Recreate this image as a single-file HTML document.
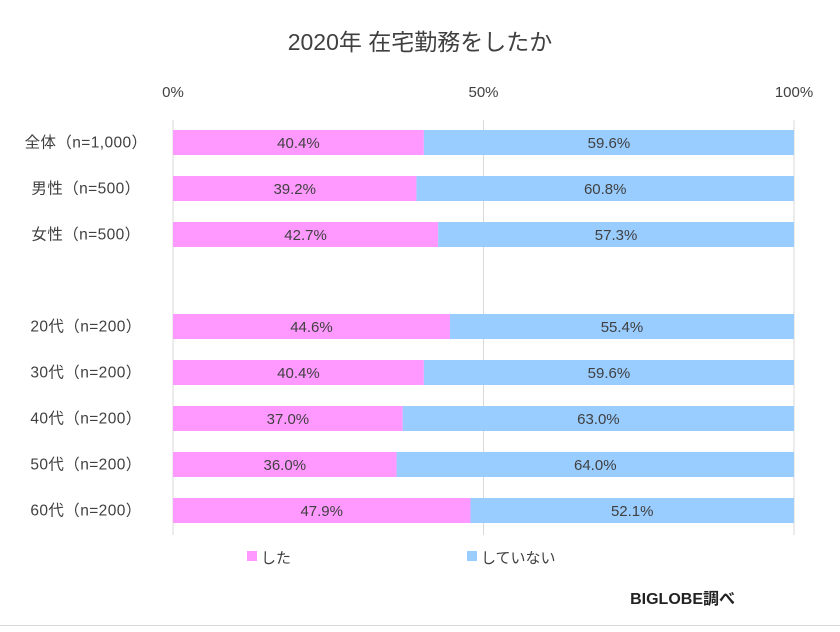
<!DOCTYPE html>
<html><head><meta charset="utf-8"><style>
body{margin:0;background:#fff}
svg text{font-family:"Liberation Sans","Noto Sans CJK JP",sans-serif;fill:#404040}
</style></head><body>
<svg width="840" height="627" viewBox="0 0 840 627">
<rect x="0" y="0" width="840" height="627" fill="#fff"/>
<line x1="0" y1="625.5" x2="840" y2="625.5" stroke="#d9d9d9"/>
<text x="420" y="50" text-anchor="middle" font-size="23">2020年 在宅勤務をしたか</text>
<g id="grid"></g><g id="bars"></g>
<rect x="247" y="551" width="10" height="10" fill="#FF99FF"/>
<text x="261" y="563" font-size="15">した</text>
<rect x="467" y="551" width="10" height="10" fill="#99CCFF"/>
<text x="481" y="563" font-size="15">していない</text>
<text x="735" y="604" text-anchor="end" font-size="16" font-weight="bold" style="fill:#222">BIGLOBE調べ</text>
</svg>
<script>
const categories=["全体（n=1,000）","男性（n=500）","女性（n=500）","","20代（n=200）","30代（n=200）","40代（n=200）","50代（n=200）","60代（n=200）"];
const didValues=[40.4,39.2,42.7,null,44.6,40.4,37.0,36.0,47.9];
const didNotValues=[59.6,60.8,57.3,null,55.4,59.6,63.0,64.0,52.1];
const tickValues=[0,50,100];
const tickLabels=["0%","50%","100%"];
const NS="http://www.w3.org/2000/svg";
const x0=173,x1=794;
const xs=v=>x0+(x1-x0)*v/100;
const yc=i=>142.5+i*46;
const g=document.getElementById('grid'),b=document.getElementById('bars');
function mk(t,a,p){const e=document.createElementNS(NS,t);for(const k in a)e.setAttribute(k,a[k]);p.appendChild(e);return e;}
tickValues.forEach((v,i)=>{
 const l=mk('line',{x1:xs(v),x2:xs(v),y1:120,y2:535,stroke:'#d9d9d9'},g);
 
 
 const t=mk('text',{x:xs(v),y:97,'text-anchor':'middle','font-size':15},g);t.textContent=tickLabels[i];
 
 
});
categories.forEach((c,i)=>{
 if(c){const t=mk('text',{x:86,y:yc(i)+5,'text-anchor':'middle','font-size':15.5,'letter-spacing':'0.4'},b);t.textContent=c;
 
 }
 if(didValues[i]==null)return;
 const d=didValues[i],n=didNotValues[i];
 const r1=mk('rect',{x:xs(0),y:yc(i)-12.5,width:xs(d)-xs(0),height:25,fill:'#FF99FF'},b);
 
 
 const r2=mk('rect',{x:xs(d),y:yc(i)-12.5,width:xs(d+n)-xs(d),height:25,fill:'#99CCFF'},b);
 
 
 const t1=mk('text',{x:(xs(0)+xs(d))/2,y:yc(i)+5.5,'text-anchor':'middle','font-size':15},b);t1.textContent=d.toFixed(1)+'%';
 
 
 const t2=mk('text',{x:(xs(d)+xs(d+n))/2,y:yc(i)+5.5,'text-anchor':'middle','font-size':15},b);t2.textContent=n.toFixed(1)+'%';
 
 
});
</script>
</body></html>
